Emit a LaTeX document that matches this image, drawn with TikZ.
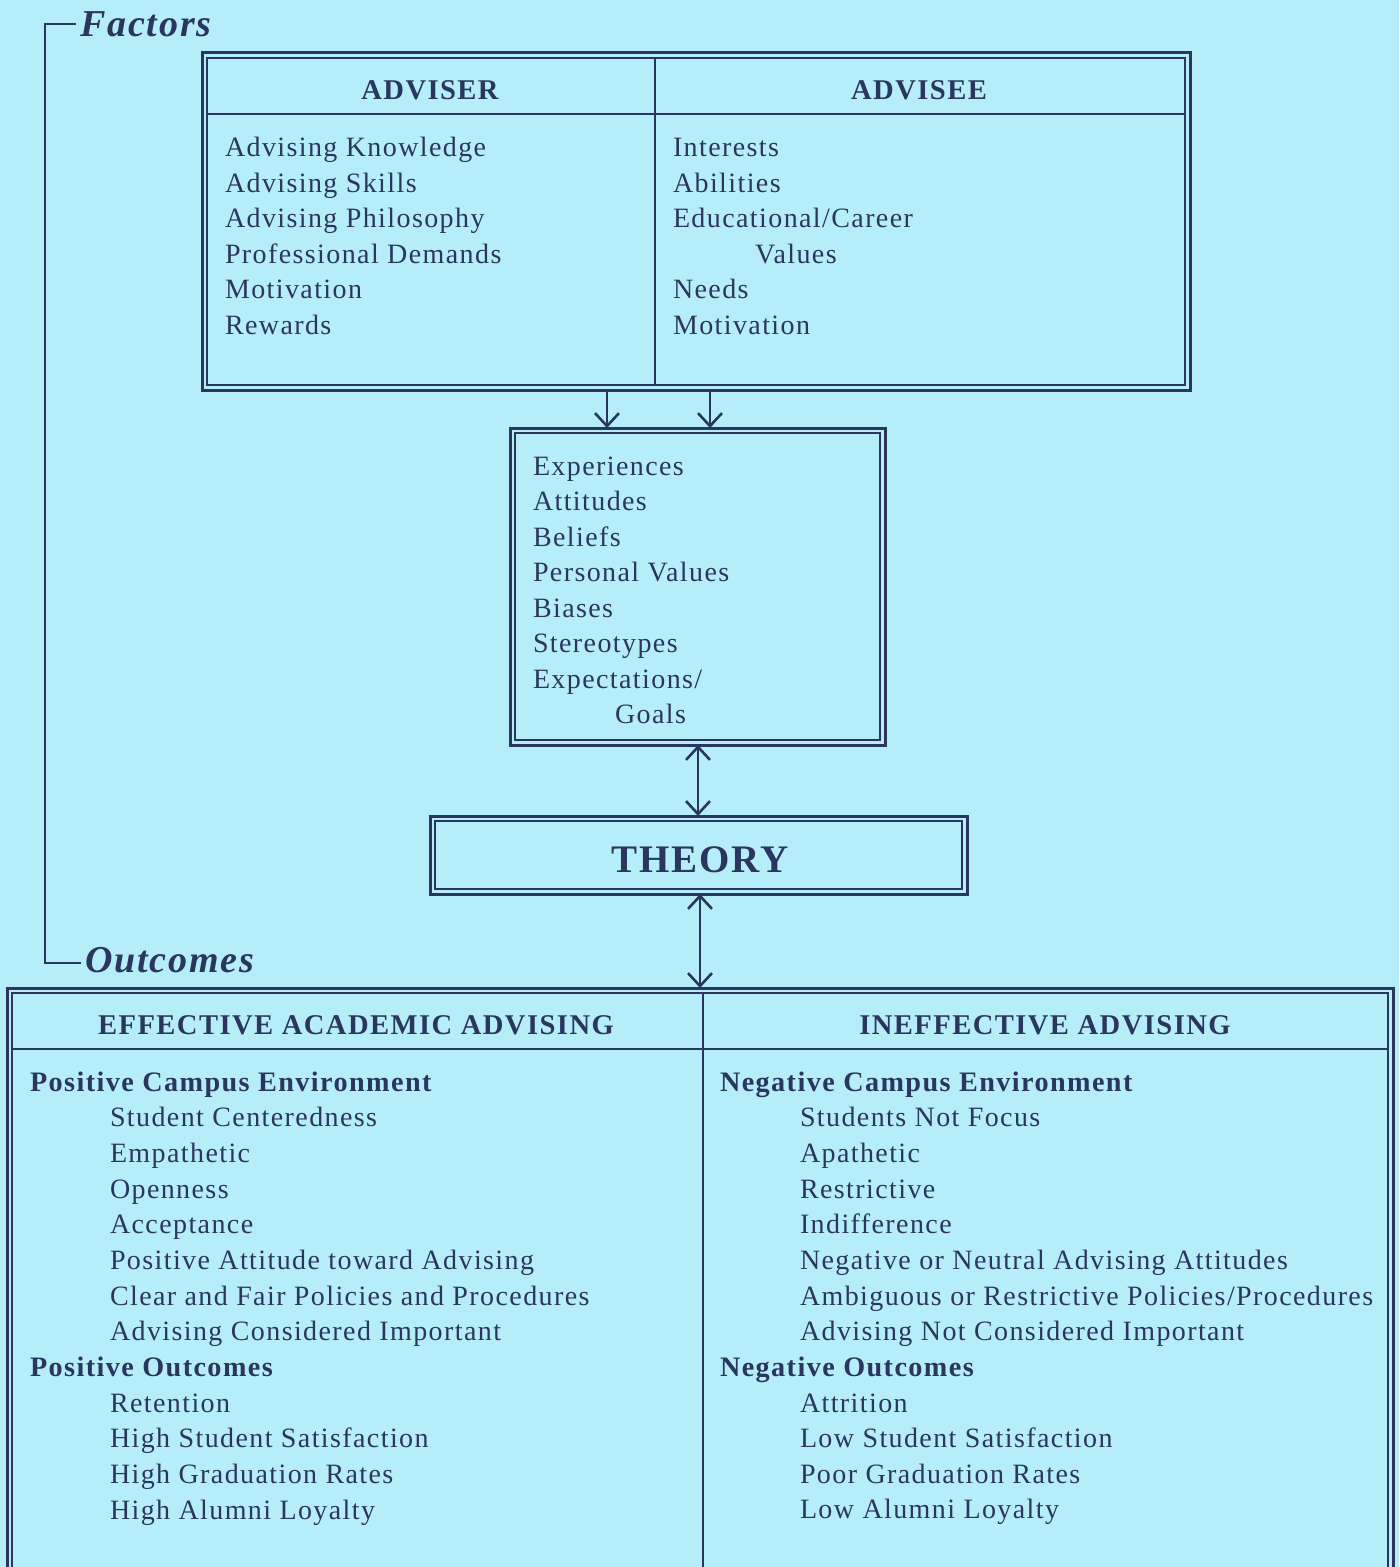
\documentclass[tikz,border=0pt]{standalone}
\usepackage{fontspec}
\setmainfont{Liberation Serif}[LetterSpace=5]
\usetikzlibrary{arrows.meta}
\definecolor{bg}{HTML}{B5EEF9}
\definecolor{ink}{HTML}{2B365F}
\begin{document}
\begin{tikzpicture}[x=0.5pt,y=-0.5pt,
  txt/.style={anchor=base west, inner sep=0pt, outer sep=0pt, font=\fontsize{14}{16}\selectfont, text=ink},
  hd/.style={anchor=base, inner sep=0pt, outer sep=0pt, font=\fontsize{14.3}{16}\selectfont\bfseries, text=ink},
  bhd/.style={anchor=base west, inner sep=0pt, outer sep=0pt, font=\fontsize{14.1}{16}\selectfont\bfseries, text=ink},
  side/.style={anchor=base west, inner sep=0pt, outer sep=0pt, font=\fontsize{19}{22}\selectfont\bfseries\itshape, text=ink},
  box/.style={draw=ink, line width=1.5pt, rectangle, inner sep=0pt, outer sep=0pt, anchor=north west},
  inner/.style={draw=ink, line width=0.7pt},
  divider/.style={draw=ink, line width=1pt},
  bracket/.style={draw=ink, line width=1.1pt},
  tip/.style={},
  arr/.style={draw=ink, line width=1.1pt, -{Straight Barb[length=6.5pt,width=12pt,line width=1.3pt]}},
  darr/.style={draw=ink, line width=1.1pt, {Straight Barb[length=6.5pt,width=12pt,line width=1.3pt]}-{Straight Barb[length=6.5pt,width=12pt,line width=1.3pt]}}
]
\useasboundingbox (0,0) rectangle (1399,1567);
\fill[bg] (0,0) rectangle (1399,1567);
\clip (0,0) rectangle (1399,1567);

% side labels and bracket
\node[side] (factors) at (80,37) {Factors};
\node[side] (outcomes) at (85,972) {Outcomes};
\coordinate (bx) at (45,0);
\draw[bracket] ([xshift=-2pt]factors.west |- 0,24) -- (bx |- 0,24) -- (bx |- 0,963) -- ([xshift=-2pt]outcomes.west |- 0,963);

% top box
\node[box, minimum width=494pt, minimum height=168.5pt] (top) at (202,53) {};
\draw[inner] ([shift={(5,5)}]top.north west) rectangle ([shift={(-5,-5)}]top.south east);
\draw[divider] (207,114) -- (1185,114);
\draw[divider] (655,58) -- (655,385);
\node[hd] (adviser) at (430,100) {ADVISER};
\node[hd] (advisee) at (919,100) {ADVISEE};
\node[txt] (l1) at (225,157) {Advising Knowledge};
\node[txt] (l2) at (225,192.5) {Advising Skills};
\node[txt] (l3) at (225,228) {Advising Philosophy};
\node[txt] (l4) at (225,263.5) {Professional Demands};
\node[txt] (l5) at (225,299) {Motivation};
\node[txt] (l6) at (225,334.5) {Rewards};
\node[txt] (r1) at (673,157) {Interests};
\node[txt] (r2) at (673,192.5) {Abilities};
\node[txt] (r3) at (673,228) {Educational/Career};
\node[txt] (r4) at (755,263.5) {Values};
\node[txt] (r5) at (673,299) {Needs};
\node[txt] (r6) at (673,334.5) {Motivation};

% middle box
\node[box, minimum width=187.5pt, minimum height=158.5pt] (mid) at (510,428) {};
\draw[inner] ([shift={(5,5)}]mid.north west) rectangle ([shift={(-5,-5)}]mid.south east);
\node[txt] (m1) at (533,475) {Experiences};
\node[txt] (m2) at (533,510.5) {Attitudes};
\node[txt] (m3) at (533,546) {Beliefs};
\node[txt] (m4) at (533,581.5) {Personal Values};
\node[txt] (m5) at (533,617) {Biases};
\node[txt] (m6) at (533,652.5) {Stereotypes};
\node[txt] (m7) at (533,688) {Expectations/};
\node[txt] (m8) at (615,723.5) {Goals};

% arrows top -> mid
\coordinate (a1) at (607,0);
\coordinate (a2) at (710,0);
\draw[arr] (a1 |- top.south) -- (a1 |- mid.north);
\draw[arr] (a2 |- top.south) -- (a2 |- mid.north);

% theory box
\node[box, minimum width=268.5pt, minimum height=39pt] (theory) at (430,816) {};
\draw[inner] ([shift={(5,5)}]theory.north west) rectangle ([shift={(-5,-5)}]theory.south east);
\node[anchor=base, inner sep=0pt, font=\fontsize{19.5}{22}\selectfont\bfseries, text=ink] (theorytxt) at (700,872) {THEORY};

\coordinate (a3) at (698,0);
\draw[darr] (a3 |- mid.south) -- (a3 |- theory.north);

% bottom box
\node[box, minimum width=693pt, minimum height=320pt] (bot) at (7,988) {};
\draw[inner] ([shift={(5,5)}]bot.north west) rectangle ([shift={(-5,-5)}]bot.south east);
\draw[divider] (12,1049) -- (1387,1049);
\draw[divider] (703,993) -- (703,1600);
\coordinate (a4) at (700,0);
\draw[darr] (a4 |- theory.south) -- (a4 |- bot.north);

\node[hd] (eff) at (356,1034) {EFFECTIVE ACADEMIC ADVISING};
\node[hd] (ineff) at (1045,1034) {INEFFECTIVE ADVISING};

\node[bhd] (p1) at (30,1091) {Positive Campus Environment};
\node[txt] (p2) at (110,1126.5) {Student Centeredness};
\node[txt] (p3) at (110,1162) {Empathetic};
\node[txt] (p4) at (110,1198) {Openness};
\node[txt] (p5) at (110,1233.5) {Acceptance};
\node[txt] (p6) at (110,1269) {Positive Attitude toward Advising};
\node[txt] (p7) at (110,1305) {Clear and Fair Policies and Procedures};
\node[txt] (p8) at (110,1340.5) {Advising Considered Important};
\node[bhd] (p9) at (30,1376) {Positive Outcomes};
\node[txt] (p10) at (110,1412) {Retention};
\node[txt] (p11) at (110,1447.5) {High Student Satisfaction};
\node[txt] (p12) at (110,1483) {High Graduation Rates};
\node[txt] (p13) at (110,1519) {High Alumni Loyalty};

\node[bhd] (n1) at (720,1091) {Negative Campus Environment};
\node[txt] (n2) at (800,1126.5) {Students Not Focus};
\node[txt] (n3) at (800,1162) {Apathetic};
\node[txt] (n4) at (800,1198) {Restrictive};
\node[txt] (n5) at (800,1233.5) {Indifference};
\node[txt] (n6) at (800,1269) {Negative or Neutral Advising Attitudes};
\node[txt] (n7) at (800,1305) {Ambiguous or Restrictive Policies/Procedures};
\node[txt] (n8) at (800,1340.5) {Advising Not Considered Important};
\node[bhd] (n9) at (720,1376) {Negative Outcomes};
\node[txt] (n10) at (800,1412) {Attrition};
\node[txt] (n11) at (800,1447.5) {Low Student Satisfaction};
\node[txt] (n12) at (800,1483) {Poor Graduation Rates};
\node[txt] (n13) at (800,1518) {Low Alumni Loyalty};
\end{tikzpicture}
\end{document}
